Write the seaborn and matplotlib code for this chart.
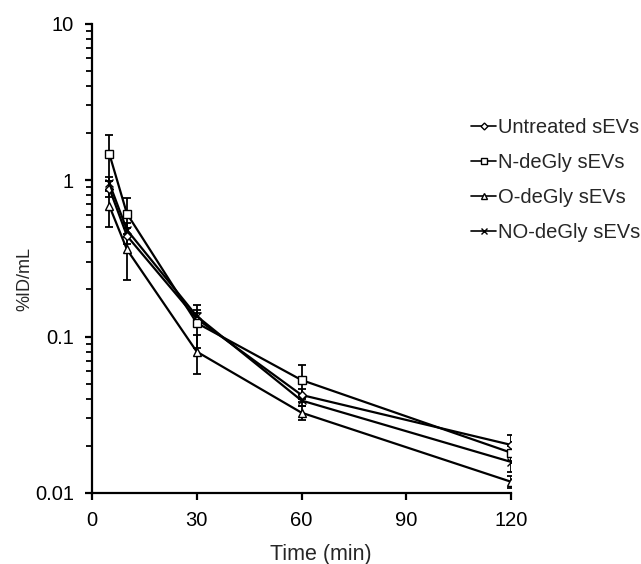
import numpy as np
import pandas as pd
import seaborn as sns
import matplotlib.pyplot as plt
from matplotlib.ticker import LogLocator, FixedLocator, FuncFormatter, NullFormatter

# time points (min)
time_min = [5, 10, 30, 60, 120]

# group names
groups = ["Untreated sEVs", "N-deGly sEVs", "O-deGly sEVs", "NO-deGly sEVs"]

# mean %ID/mL
untreated = [0.88, 0.44, 0.13, 0.0423, 0.0203]
n_degly = [1.46, 0.61, 0.122, 0.0527, 0.0181]
o_degly = [0.68, 0.36, 0.080, 0.0326, 0.0118]
no_degly = [0.95, 0.48, 0.135, 0.039, 0.0158]

# error bars (sd)
untreated_err = [0.10, 0.05, 0.012, 0.004, 0.0032]
n_degly_err = [0.48, 0.16, 0.037, 0.013, 0.002]
o_degly_err = [0.18, 0.13, 0.022, 0.0034, 0.001]
no_degly_err = [0.10, 0.05, 0.012, 0.003, 0.0021]

means = [untreated, n_degly, o_degly, no_degly]
errs = [untreated_err, n_degly_err, o_degly_err, no_degly_err]
marker_list = ["D", "s", "^", "x"]
marker_sizes = [4.5, 6, 6, 6]

sns.set_style("ticks")
plt.rcParams["font.family"] = ["Liberation Sans", "DejaVu Sans"]
plt.rcParams["font.size"] = 14

fig = plt.figure(figsize=(6.41, 5.64), dpi=100)
ax = fig.add_axes([92 / 641, 1 - 493 / 564, (511 - 92) / 641, (493 - 23.5) / 564])

# error bars first so the markers sit on top
for m, e in zip(means, errs):
    ax.errorbar(time_min, m, yerr=e, fmt="none", ecolor="black",
                elinewidth=1.3, capsize=3, capthick=1.3, zorder=1)

for g, m, mk, ms in zip(groups, means, marker_list, marker_sizes):
    df = pd.DataFrame({"Time (min)": time_min, "%ID/mL": m})
    sns.lineplot(data=df, x="Time (min)", y="%ID/mL", color="black",
                 marker=mk, markersize=ms, markerfacecolor="white",
                 markeredgecolor="black", markeredgewidth=1.0,
                 linewidth=1.6, label=g, ax=ax, zorder=2)

ax.set_yscale("log")
ax.set_ylim(0.01, 10)
ax.set_xlim(0, 120)
ax.xaxis.set_major_locator(FixedLocator([0, 30, 60, 90, 120]))
ax.yaxis.set_major_locator(FixedLocator([0.01, 0.1, 1, 10]))
ax.yaxis.set_major_formatter(FuncFormatter(lambda v, p: f"{v:g}"))
ax.yaxis.set_minor_locator(LogLocator(base=10, subs=np.arange(2, 10)))
ax.yaxis.set_minor_formatter(NullFormatter())

for side in ["top", "right"]:
    ax.spines[side].set_visible(False)
for side in ["left", "bottom"]:
    ax.spines[side].set_linewidth(1.6)
    ax.spines[side].set_color("black")

ax.tick_params(axis="both", which="major", length=5, width=1.6, colors="black",
               labelsize=14.5)
ax.tick_params(axis="y", which="major", pad=8)
ax.tick_params(axis="x", which="major", pad=8)
ax.tick_params(axis="y", which="minor", length=4, width=1.3, colors="black")

ax.set_xlabel("Time (min)", fontsize=15.5)
ax.set_ylabel("%ID/mL", fontsize=13)
ax.xaxis.set_label_coords(0.547, -0.108)
ax.yaxis.set_label_coords(-0.14, 0.455)

handles, labels = ax.get_legend_handles_labels()
leg = ax.legend(handles, labels, loc="center left",
                bbox_to_anchor=(461 / 641, 1 - 180 / 564),
                bbox_transform=fig.transFigure, frameon=False,
                handlelength=1.25, handletextpad=0.1, labelspacing=0.78,
                borderpad=0, fontsize=14.5)
for h, ms in zip(leg.legend_handles, marker_sizes):
    h.set_linewidth(1.2)
    h.set_markersize(ms - 1)

fig.savefig("out.png", dpi=100)
